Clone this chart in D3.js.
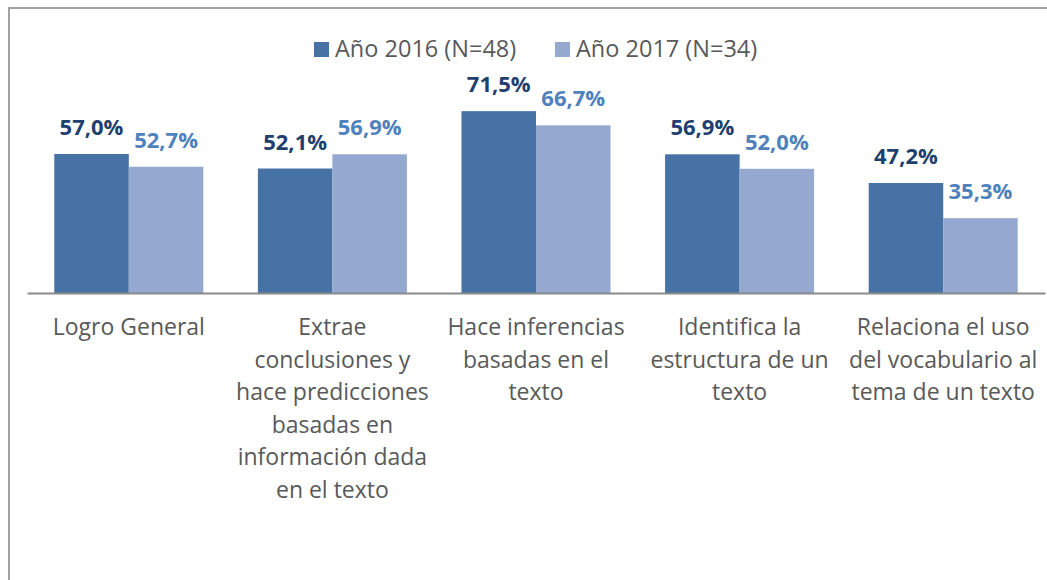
<!DOCTYPE html>
<html>
<head>
<meta charset="utf-8">
<script src="https://cdn.jsdelivr.net/npm/d3@7/dist/d3.min.js"></script>
<style>
  html, body { margin: 0; padding: 0; background: #fff; }
  svg { display: block; font-family: "Open Sans", sans-serif; }
</style>
</head>
<body>
<div id="chart"></div>
<script>
// Data
const categories = [
    'Logro General',
    'Extrae conclusiones',
    'Hace inferencias',
    'Identifica la estructura',
    'Relaciona el uso'
];
const categoryLines = [
    ['Logro General'],
    ['Extrae', 'conclusiones y', 'hace predicciones', 'basadas en', 'información dada', 'en el texto'],
    ['Hace inferencias', 'basadas en el', 'texto'],
    ['Identifica la', 'estructura de un', 'texto'],
    ['Relaciona el uso', 'del vocabulario al', 'tema de un texto']
];
const seriesNames = ['Año 2016 (N=48)', 'Año 2017 (N=34)'];
const values2016 = [57.0, 52.1, 71.5, 56.9, 47.2];
const values2017 = [52.7, 56.9, 66.7, 52.0, 35.3];

const width = 1047, height = 580;
const barColors = ['#4672a6', '#95a9d0'];
const labelColors = ['#1f3f6e', '#4f81bd'];

const svg = d3.select('#chart').append('svg')
    .attr('width', width)
    .attr('height', height);

// Outer frame (cropped on the right and bottom)
svg.append('rect')
    .attr('x', 9).attr('y', 8)
    .attr('width', 1200).attr('height', 800)
    .attr('fill', 'none')
    .attr('stroke', '#8a8a8a')
    .attr('stroke-width', 1.6);

// Scales
const xScale = d3.scaleBand()
    .domain(categories)
    .range([27, 1045])
    .paddingInner(0.268)
    .paddingOuter(0.134);
const xSub = d3.scaleBand()
    .domain([0, 1])
    .range([0, xScale.bandwidth()]);
const yScale = d3.scaleLinear()
    .domain([10, 80])
    .range([293, 86]);

const series = [values2016, values2017];

// Bars
const groups = svg.append('g').attr('class', 'bars')
    .selectAll('g')
    .data(categories)
    .join('g')
    .attr('transform', d => `translate(${xScale(d)},0)`);

groups.selectAll('rect')
    .data((d, i) => series.map((s, k) => ({ k, v: s[i] })))
    .join('rect')
    .attr('x', d => xSub(d.k))
    .attr('y', d => yScale(d.v))
    .attr('width', xSub.bandwidth())
    .attr('height', d => yScale.range()[0] - yScale(d.v))
    .attr('fill', d => barColors[d.k]);

// Value labels
groups.selectAll('text.value')
    .data((d, i) => series.map((s, k) => ({ k, v: s[i] })))
    .join('text')
    .attr('class', 'value')
    .attr('x', d => xSub(d.k) + xSub.bandwidth() / 2)
    .attr('y', d => yScale(d.v) - 19)
    .attr('text-anchor', 'middle')
    .attr('font-size', 22)
    .attr('font-weight', 700)
    .attr('fill', d => labelColors[d.k])
    .text(d => d.v.toFixed(1).replace('.', ',') + '%');

// x axis
const xAxis = svg.append('g')
    .attr('class', 'axis axis-x')
    .attr('transform', `translate(0, ${yScale.range()[0]})`)
    .call(d3.axisBottom(xScale).tickSize(0).tickFormat(''));
xAxis.select('.domain')
    .attr('stroke', '#8a8a8a')
    .attr('stroke-width', 2);

xAxis.selectAll('.tick').each(function (d, i) {
    const t = d3.select(this).append('text')
        .attr('text-anchor', 'middle')
        .attr('fill', '#595959')
        .attr('font-size', 23)
        .attr('font-family', '"Open Sans", sans-serif');
    categoryLines[i].forEach((line, j) => {
        t.append('tspan')
            .attr('x', 0)
            .attr('y', 42 + j * 32.6)
            .text(line);
    });
});

// Legend
const legend = svg.append('g').attr('class', 'legend');
const legendX = [314, 555];
seriesNames.forEach((name, k) => {
    legend.append('rect')
        .attr('x', legendX[k]).attr('y', 42)
        .attr('width', 15).attr('height', 15)
        .attr('fill', barColors[k]);
    legend.append('text')
        .attr('x', legendX[k] + 21).attr('y', 57)
        .attr('font-size', 23.5)
        .attr('fill', '#595959')
        .text(name);
});
</script>
</body>
</html>
